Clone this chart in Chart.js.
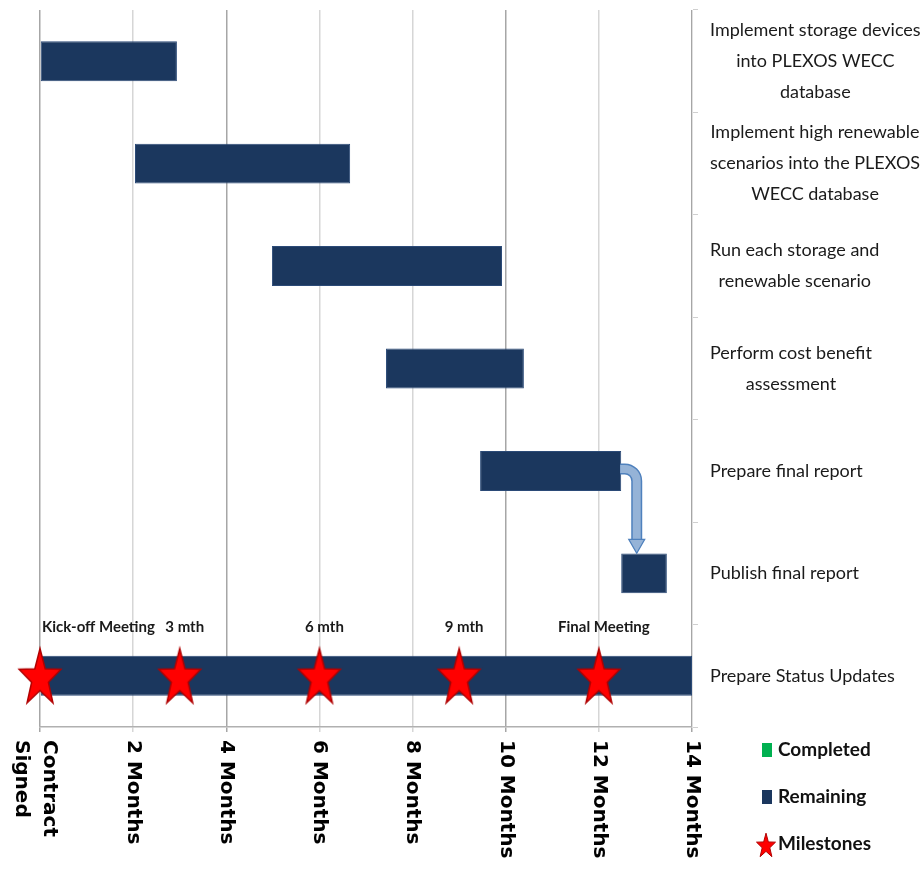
<!DOCTYPE html>
<html>
<head>
<meta charset="utf-8">
<title>Project Schedule</title>
<script src="https://cdn.jsdelivr.net/npm/chart.js@4.4.1/dist/chart.umd.min.js"></script>
<style>
  html, body { margin: 0; padding: 0; background: #ffffff; }
  #wrap { width: 924px; height: 879px; position: relative; }
</style>
</head>
<body>
<div id="wrap"><canvas id="chart"></canvas></div>
<script>
// ---- schedule data ----
const tasks = [
  ['Implement storage devices', 'into PLEXOS WECC', 'database'],
  ['Implement high renewable', 'scenarios into the PLEXOS', 'WECC database'],
  ['Run each storage and', 'renewable scenario'],
  ['Perform cost benefit', 'assessment'],
  ['Prepare final report'],
  ['Publish final report'],
  ['Prepare Status Updates']
];
const taskNames = tasks.map(lines => lines.join(' '));
const taskStart = [0, 2.04, 4.98, 7.43, 9.45, 12.48, 0];
const taskEnd   = [2.94, 6.66, 9.92, 10.39, 12.48, 13.46, 14];

const milestoneMonths = [0, 3, 6, 9, 12];
const milestoneNames  = ['Kick-off Meeting', '3 mth', '6 mth', '9 mth', 'Final Meeting'];

const monthTicks = [0, 2, 4, 6, 8, 10, 12, 14];
const monthLabels = [['Contract', 'Signed'], '2 Months', '4 Months', '6 Months',
                     '8 Months', '10 Months', '12 Months', '14 Months'];

const seriesNames = ['Completed', 'Remaining', 'Milestones'];

// ---- colours & fonts ----
const NAVY = '#1b375e';
const GREEN = '#00b050';
const RED = '#ff0000';
const TEXT_FONT = "Lato, 'Open Sans', sans-serif";
const WIDE_BOLD = "bold 20px 'DejaVu Sans', Verdana, sans-serif";
const strongGrid = [0, 4, 10, 14];

// Filled five-point star, slightly tall, used as a point style
function makeStar(rx, ry, lw) {
  const pad = 3;
  const c = document.createElement('canvas');
  c.width = Math.ceil(rx * 2 + pad * 2);
  c.height = Math.ceil(ry * 2 + pad * 2);
  const g = c.getContext('2d');
  const cx = c.width / 2, cy = c.height / 2 + ry * 0.09;
  g.beginPath();
  for (let i = 0; i < 10; i++) {
    const a = -Math.PI / 2 + i * Math.PI / 5;
    const r = i % 2 === 0 ? 1 : 0.4;
    const px = cx + Math.cos(a) * rx * r;
    const py = cy + Math.sin(a) * ry * r;
    if (i === 0) g.moveTo(px, py); else g.lineTo(px, py);
  }
  g.closePath();
  g.fillStyle = RED;
  g.fill();
  g.lineWidth = lw;
  g.strokeStyle = '#b00000';
  g.stroke();
  return c;
}
const bigStar = makeStar(22, 30, 1.5);
const smallStar = makeStar(10, 13, 1);

const statusRow = tasks.length - 1;

// Right-hand task labels: block left-aligned, lines centred within block
const taskLabelPlugin = {
  id: 'taskLabels',
  afterDraw(chart) {
    const ys = chart.scales.y;
    const ctx = chart.ctx;
    ctx.save();
    ctx.font = '18px ' + TEXT_FONT;
    ctx.fillStyle = '#1a1a1a';
    ctx.textAlign = 'center';
    ctx.textBaseline = 'middle';
    const lh = 31;
    tasks.forEach((lines, i) => {
      const y = ys.getPixelForValue(i);
      const w = Math.max(...lines.map(l => ctx.measureText(l).width));
      const cx = ys.left + 18 + w / 2;
      lines.forEach((l, j) => {
        ctx.fillText(l, cx, y + (j - (lines.length - 1) / 2) * lh);
      });
    });
    ctx.restore();
  }
};

// Bottom month labels, rotated to read top-to-bottom
const monthLabelPlugin = {
  id: 'monthLabels',
  afterDraw(chart) {
    const xs = chart.scales.x;
    const ctx = chart.ctx;
    ctx.save();
    ctx.font = WIDE_BOLD;
    ctx.fillStyle = '#000000';
    ctx.textAlign = 'left';
    ctx.textBaseline = 'middle';
    const lh = 28;
    monthTicks.forEach((m, i) => {
      const lines = [].concat(monthLabels[i]);
      const x = xs.getPixelForValue(m);
      lines.forEach((l, j) => {
        const off = ((lines.length - 1) / 2 - j) * lh - (lines.length > 1 ? 5 : 0);
        ctx.save();
        ctx.translate(x + off, xs.top + 13);
        ctx.rotate(Math.PI / 2);
        ctx.fillText(l, 0, 0);
        ctx.restore();
      });
    });
    ctx.restore();
  }
};

// Milestone captions above the stars
const milestoneLabelPlugin = {
  id: 'milestoneLabels',
  afterDatasetsDraw(chart) {
    const meta = chart.getDatasetMeta(2);
    const area = chart.chartArea;
    const ctx = chart.ctx;
    ctx.save();
    ctx.font = 'bold 15px ' + TEXT_FONT;
    ctx.fillStyle = '#1a1a1a';
    ctx.textBaseline = 'middle';
    ctx.textAlign = 'left';
    meta.data.forEach((pt, i) => {
      const name = milestoneNames[i];
      const w = ctx.measureText(name).width;
      let left = pt.x - w / 2 + 5;
      left = Math.max(area.left + 2, Math.min(area.right - w - 2, left));
      ctx.fillText(name, left, pt.y - 49);
    });
    ctx.restore();
  }
};

// Elbow connector from "Prepare final report" to "Publish final report"
const connectorPlugin = {
  id: 'connector',
  afterDatasetsDraw(chart) {
    const bars = chart.getDatasetMeta(1).data;
    const from = bars[4], to = bars[5];
    if (!from || !to) return;
    const ctx = chart.ctx;
    const x0 = from.x;
    const y0 = from.y - 2;
    const xa = to.base + (to.x - to.base) * 0.34;
    const yTip = to.y - to.height / 2;
    const head = 14, r = 12;
    const path = () => {
      ctx.beginPath();
      ctx.moveTo(x0 - 1, y0);
      ctx.lineTo(xa - r, y0);
      ctx.arcTo(xa, y0, xa, y0 + r, r);
      ctx.lineTo(xa, yTip - head + 1);
    };
    ctx.save();
    ctx.lineCap = 'butt';
    path(); ctx.strokeStyle = '#4f81bd'; ctx.lineWidth = 11; ctx.stroke();
    path(); ctx.strokeStyle = '#95b3d7'; ctx.lineWidth = 8; ctx.stroke();
    ctx.beginPath();
    ctx.moveTo(xa - 8, yTip - head);
    ctx.lineTo(xa + 8, yTip - head);
    ctx.lineTo(xa, yTip);
    ctx.closePath();
    ctx.fillStyle = '#95b3d7';
    ctx.fill();
    ctx.strokeStyle = '#4f81bd';
    ctx.lineWidth = 1.2;
    ctx.stroke();
    ctx.restore();
  }
};

// Legend at lower right
const legendPlugin = {
  id: 'sideLegend',
  afterDraw(chart) {
    const xs = chart.scales.x, ys = chart.scales.y;
    const ctx = chart.ctx;
    const x = ys.left + 76;
    const y0 = xs.top + 23;
    ctx.save();
    ctx.font = 'bold 19px ' + TEXT_FONT;
    ctx.fillStyle = '#111111';
    ctx.textBaseline = 'middle';
    chart.data.datasets.forEach((ds, i) => {
      const y = y0 + i * 47;
      if (ds.type === 'scatter') {
        ctx.drawImage(smallStar, x - 2 - smallStar.width / 2, y - smallStar.height / 2 + 1);
      } else {
        ctx.fillStyle = ds.backgroundColor;
        ctx.fillRect(x - 6, y - 7, 10, 14);
        ctx.fillStyle = '#111111';
      }
      ctx.fillText(ds.label, x + 10, y);
    });
    ctx.restore();
  }
};

new Chart(document.getElementById('chart'), {
  type: 'bar',
  data: {
    labels: taskNames,
    datasets: [
      {
        label: seriesNames[0],
        type: 'bar',
        indexAxis: 'y',
        data: [],
        backgroundColor: GREEN,
        order: 3
      },
      {
        label: seriesNames[1],
        type: 'bar',
        indexAxis: 'y',
        data: taskStart.map((s, i) => [s, taskEnd[i]]),
        backgroundColor: NAVY,
        borderColor: '#2b4a77',
        borderWidth: 1,
        borderSkipped: false,
        barPercentage: 0.39,
        categoryPercentage: 1,
        grouped: false,
        order: 2
      },
      {
        label: seriesNames[2],
        type: 'scatter',
        data: milestoneMonths.map(m => ({ x: m, y: taskNames[statusRow] })),
        pointStyle: bigStar,
        pointRadius: 20,
        pointHoverRadius: 20,
        showLine: false,
        clip: false,
        order: 0
      }
    ]
  },
  options: {
    responsive: true,
    maintainAspectRatio: false,
    animation: false,
    devicePixelRatio: 1,
    layout: { autoPadding: false, padding: { left: 40, top: 10, right: 0, bottom: 0 } },
    plugins: {
      legend: { display: false },
      tooltip: { enabled: false }
    },
    scales: {
      x: {
        type: 'linear',
        position: 'bottom',
        offset: false,
        min: 0,
        max: 14,
        ticks: { display: false, stepSize: 2 },
        grid: {
          offset: false,
          color: ctx => (ctx.tick && strongGrid.includes(ctx.tick.value)) ? '#a6a6a6' : '#d6d6d6',
          lineWidth: 1.5,
          tickLength: 5
        },
        border: { display: true, color: '#b0b0b0', width: 1.5 },
        afterFit: s => { s.height = 152; }
      },
      y: {
        type: 'category',
        position: 'right',
        offset: true,
        ticks: { display: false },
        grid: { offset: true, drawOnChartArea: false, tickLength: 6, color: '#cfcfcf' },
        border: { display: true, color: '#e0e0e0' },
        afterFit: s => { s.width = 232; }
      }
    }
  },
  plugins: [connectorPlugin, milestoneLabelPlugin, taskLabelPlugin, monthLabelPlugin, legendPlugin]
});
</script>
</body>
</html>
